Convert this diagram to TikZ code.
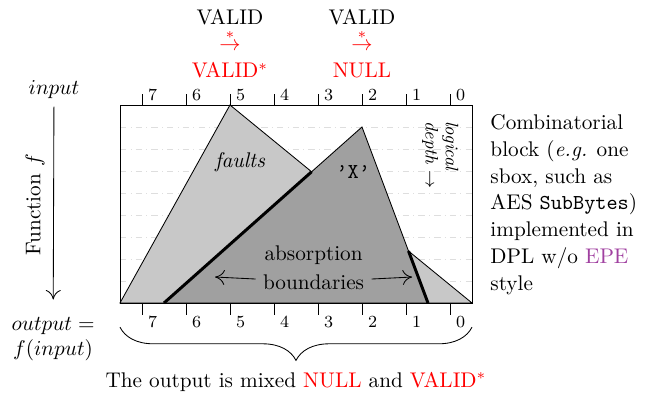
\documentclass[tikz,border=0pt]{standalone}
\usetikzlibrary{decorations.pathreplacing,calc,arrows.meta}
\definecolor{lightfill}{RGB}{200,200,200}
\definecolor{darkfill}{RGB}{160,160,160}
\definecolor{epe}{RGB}{160,64,160}
\begin{document}
\begin{tikzpicture}[x=0.7285cm,y=0.7285cm,
  ticklabel/.style={font=\footnotesize, inner sep=0pt},
  gridline/.style={black!13, dash dot, line width=0.4pt},
  boundary/.style={line width=1.4pt},
  multiline/.style={align=center, font=\fontsize{10}{12.6}\selectfont, inner sep=0pt},
  arr/.style={-{To[length=4.5pt,width=7pt]}},
]
\useasboundingbox (-3.227,-2.045) rectangle (11.705,6.886);

% grid lines of logical depth
\foreach \y in {0.5,1,...,4} \draw[gridline] (-0.5,\y) -- (7.5,\y);

% triangles
\coordinate (L1) at (-0.5,0); \coordinate (L2) at (2,4.5); \coordinate (L3) at (7.5,0);
\coordinate (D1) at (0.5,0); \coordinate (D2) at (5,4); \coordinate (D3) at (6.5,0);
\filldraw[fill=lightfill] (L1) -- (L2) -- (L3) -- cycle;
\filldraw[fill=darkfill] (D1) -- (D2) -- (D3) -- cycle;
\coordinate (I1) at (intersection of D1--D2 and L2--L3);
\coordinate (I2) at (intersection of D2--D3 and L2--L3);
\draw[boundary] (D1) -- (I1);
\draw[boundary] (I2) -- (D3);

% box
\draw (-0.5,0) rectangle (7.5,4.5);

% ticks
\foreach \i in {0,...,7} {
  \pgfmathtruncatemacro\lab{7-\i}
  \draw (\i,4.5) -- (\i,4.75);
  \node[ticklabel, anchor=base west] (t\i) at (\i+0.13,4.61) {\lab};
  \draw (\i,0) -- (\i,-0.27);
  \node[ticklabel, anchor=base west] (b\i) at (\i+0.13,-0.55) {\lab};
}

% top labels
\node[multiline, anchor=north] (valid1) at (2,6.69) {VALID\\ \textcolor{red}{$\stackrel{*}{\rightarrow}$}\\ \textcolor{red}{VALID$^*$}};
\node[multiline, anchor=north] (valid2) at (5,6.69) {VALID\\ \textcolor{red}{$\stackrel{*}{\rightarrow}$}\\ \textcolor{red}{NULL}};

% left: function arrow
\node (in) at (-2,4.84) {$input$};
\node[align=center, font=\fontsize{10}{11.5}\selectfont] (out) at (-2.02,-0.82) {$output =$\\ $f(input)$};
\draw[arr, shorten >=5pt] (in) -- (out);
\node[rotate=90] (fn) at (-2.43,2.23) {Function $f$};

% inside labels
\node (faults) at (2.23,3.2) {\textit{faults}};
\node (xx) at (4.8,2.98) {\texttt{’X’}};
\node (abs1) at (3.9,1.09) {absorption};
\node (abs2) at (3.9,0.48) {boundaries};
\coordinate (tipL) at (1.66,0.59);
\coordinate (tipR) at (6.14,0.59);
\draw[arr] (abs2) -- (tipL);
\draw[arr] (abs2) -- (tipR);

\node[rotate=-90, align=left, anchor=north west, inner sep=0pt, font=\fontsize{8.5}{9.5}\selectfont] (depth) at (7.2,4.14) {\textit{logical}\\ \textit{depth} $\rightarrow$};

% right description
\node[anchor=north west, align=left, inner sep=0pt, font=\fontsize{10}{12.6}\selectfont] (desc) at (7.91,4.29) {Combinatorial\\ block (\textit{e.g.} one\\ sbox, such as\\ AES \texttt{SubBytes})\\ implemented in\\ DPL w/o \textcolor{epe}{EPE}\\ style};

% brace and caption
\coordinate (brL) at (-0.5,-0.55);
\coordinate (brR) at (7.5,-0.55);
\draw[decorate, decoration={brace, mirror, amplitude=0.55cm}] (brL) -- (brR);
\node[anchor=base] (caption) at (3.5,-1.91) {The output is mixed \textcolor{red}{NULL} and \textcolor{red}{VALID$^*$}};
\end{tikzpicture}
\end{document}
